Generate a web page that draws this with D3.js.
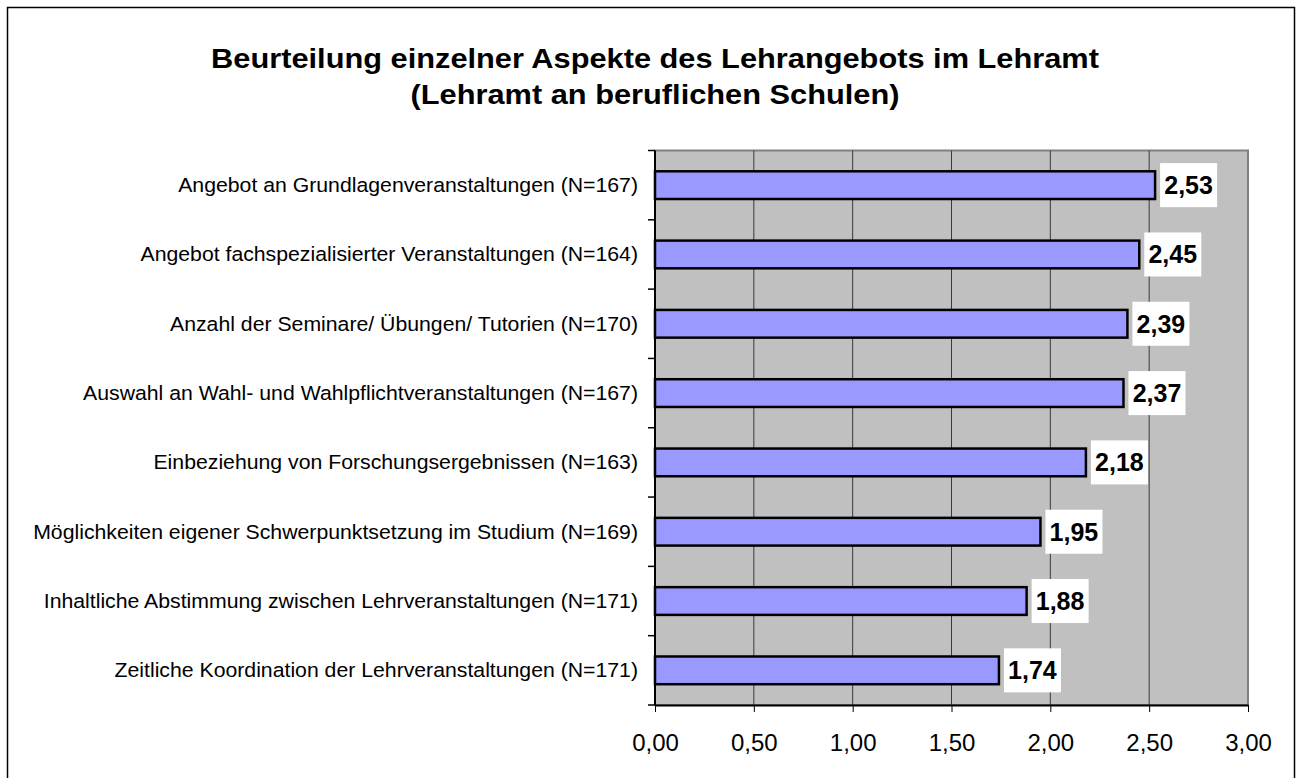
<!DOCTYPE html>
<html>
<head>
<meta charset="utf-8">
<style>
  body { margin: 0; background: #fff; }
  svg { display: block; font-family: Arial, "Liberation Sans", sans-serif; }
</style>
</head>
<body>
<svg width="1299" height="778"></svg>
<script src="https://d3js.org/d3.v7.min.js"></script>
<script>

var categories = [
  "Angebot an Grundlagenveranstaltungen (N=167)",
  "Angebot fachspezialisierter Veranstaltungen (N=164)",
  "Anzahl der Seminare/ Übungen/ Tutorien (N=170)",
  "Auswahl an Wahl- und Wahlpflichtveranstaltungen (N=167)",
  "Einbeziehung von Forschungsergebnissen (N=163)",
  "Möglichkeiten eigener Schwerpunktsetzung im Studium (N=169)",
  "Inhaltliche Abstimmung zwischen Lehrveranstaltungen (N=171)",
  "Zeitliche Koordination der Lehrveranstaltungen (N=171)"
];
var values = [2.53, 2.45, 2.39, 2.37, 2.18, 1.95, 1.88, 1.74];
var xTicks = [0, 0.5, 1, 1.5, 2, 2.5, 3];
var titleLines = [
  "Beurteilung einzelner Aspekte des Lehrangebots im Lehramt",
  "(Lehramt an beruflichen Schulen)"
];

var svg = d3.select("svg");
var fmt = function(v) { return v.toFixed(2).replace(".", ","); };

// outer frame
svg.append("rect")
    .attr("x", 7.5).attr("y", 7.5)
    .attr("width", 1287).attr("height", 800)
    .attr("fill", "#fff").attr("stroke", "#000").attr("stroke-width", 1.5);

// the original text is a bit wider than Liberation Sans, so stretch it slightly
svg.selectAll(".title")
    .data(titleLines)
  .enter().append("g")
    .attr("transform", function(d, i) { return "translate(655," + (68 + i * 36) + ") scale(1.14,1)"; })
  .append("text")
    .attr("text-anchor", "middle")
    .style("font-size", "27px")
    .style("font-weight", "bold")
    .text(function(d) { return d; });

var x = d3.scaleLinear().domain([0, 3]).range([655, 1248]);
var y = d3.scaleBand().domain(categories).range([150.5, 705])
    .paddingInner(0.6).paddingOuter(0.3);

// plot area
svg.append("rect")
    .attr("x", x(0)).attr("y", 150.5)
    .attr("width", x(3) - x(0)).attr("height", 705 - 150.5)
    .attr("fill", "#c0c0c0")
    .attr("stroke", "#808080").attr("stroke-width", 2);

svg.selectAll(".grid")
    .data(xTicks.slice(1, -1))
  .enter().append("line")
    .attr("class", "grid")
    .attr("x1", function(d) { return x(d); }).attr("x2", function(d) { return x(d); })
    .attr("y1", 150.5).attr("y2", 705)
    .attr("stroke", "#3a3a3a").attr("stroke-width", 1);

// x axis
var xAxis = svg.append("g")
    .attr("transform", "translate(0,705)")
    .call(d3.axisBottom(x).tickValues(xTicks).tickFormat(fmt).tickSize(7).tickSizeOuter(0));
xAxis.select(".domain").attr("stroke", "#000").attr("stroke-width", 2);
xAxis.selectAll("text").style("font-size", "24px").attr("fill", "#000")
    .attr("font-family", null).attr("dy", "1.5em");

// y axis with ticks between categories
var yAxis = svg.append("g").attr("transform", "translate(655,0)");
yAxis.append("line")
    .attr("y1", 150.5).attr("y2", 705)
    .attr("stroke", "#000").attr("stroke-width", 2);
yAxis.selectAll(".ytick")
    .data(d3.range(categories.length + 1))
  .enter().append("line")
    .attr("x1", -7).attr("x2", 0)
    .attr("y1", function(i) { return 150.5 + i * (705 - 150.5) / categories.length; })
    .attr("y2", function(i) { return 150.5 + i * (705 - 150.5) / categories.length; })
    .attr("stroke", "#000").attr("stroke-width", 1.5);

svg.selectAll(".cat")
    .data(categories)
  .enter().append("g")
    .attr("transform", function(d) {
      return "translate(638," + (y(d) + y.bandwidth() / 2) + ") scale(1.09,1)";
    })
  .append("text")
    .attr("dy", "0.35em")
    .attr("text-anchor", "end")
    .style("font-size", "19.5px")
    .text(function(d) { return d; });

// bars
svg.selectAll(".bar")
    .data(values)
  .enter().append("rect")
    .attr("x", x(0))
    .attr("y", function(d, i) { return y(categories[i]); })
    .attr("width", function(d) { return x(d) - x(0); })
    .attr("height", y.bandwidth())
    .attr("fill", "#9999ff")
    .attr("stroke", "#000").attr("stroke-width", 2.5);

// value labels
var lab = svg.selectAll(".lab")
    .data(values)
  .enter().append("g")
    .attr("transform", function(d, i) {
      return "translate(" + (x(d) + 5) + "," + (y(categories[i]) + y.bandwidth() / 2) + ")";
    });
lab.append("rect")
    .attr("x", 0).attr("y", -22)
    .attr("width", 57).attr("height", 44)
    .attr("fill", "#fff");
lab.append("text")
    .attr("x", 28.5).attr("dy", "0.36em")
    .attr("text-anchor", "middle")
    .style("font-size", "25px").style("font-weight", "bold")
    .text(fmt);

</script>
</body>
</html>
